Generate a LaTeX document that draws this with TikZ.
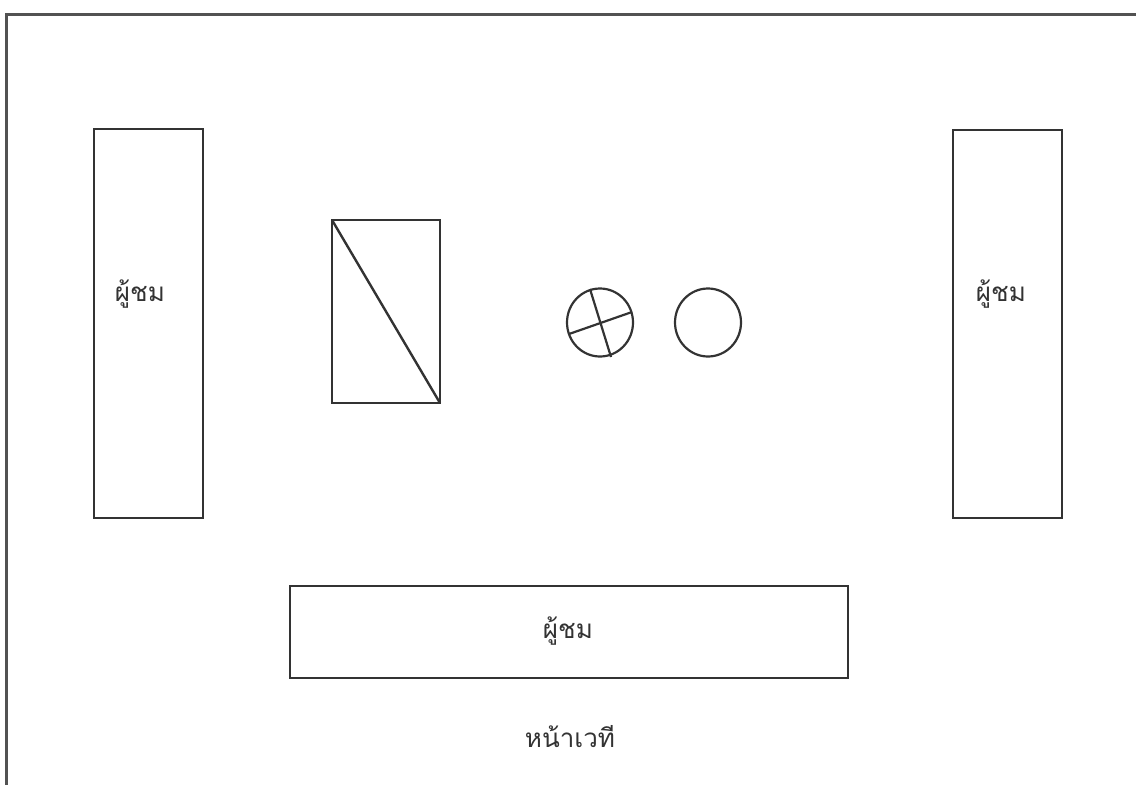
\documentclass[tikz,border=0pt]{standalone}
\usepackage{fontspec}
\newfontfamily\thaifont[Script=Thai]{Loma}
\definecolor{ink}{HTML}{333333}
\begin{document}
\begin{tikzpicture}[x=1pt,y=-1pt,
  box/.style={draw=ink,line width=2.1pt},
  lbl/.style={font=\thaifont\fontsize{26}{30}\selectfont,text=ink,inner sep=0pt}]
\useasboundingbox (0,0) rectangle (1136,785);
% outer frame (open to right and bottom)
\draw[ink!85,line width=2.2pt] (6.5,785) -- (6.5,14.5) -- (1136,14.5);
% audience blocks
\draw[box] (94,129) rectangle (203,518);
\draw[box] (953,130) rectangle (1062,518);
\draw[box] (290,586) rectangle (848,678);
\node[lbl] (aL) at (140,294) {ผู้ชม};
\node[lbl] (aR) at (1001,294) {ผู้ชม};
\node[lbl] (aB) at (568,631) {ผู้ชม};
% table with diagonal
\draw[box,line width=1.8pt] (332,220) rectangle (440,403);
\draw[ink,line width=2.4pt] (332,220) -- (440,403);
% crossed circle
\draw[ink,line width=2.2pt] (600,322.5) ellipse [x radius=33,y radius=34];
\draw[ink,line width=2.2pt] (590,289) -- (611,357);
\draw[ink,line width=2.2pt] (569,334) -- (632,312);
% plain circle
\draw[ink,line width=2.2pt] (708,322.5) ellipse [x radius=33,y radius=34];
% stage front
\node[lbl] (st) at (570,737) {หน้าเวที};
\end{tikzpicture}
\end{document}
